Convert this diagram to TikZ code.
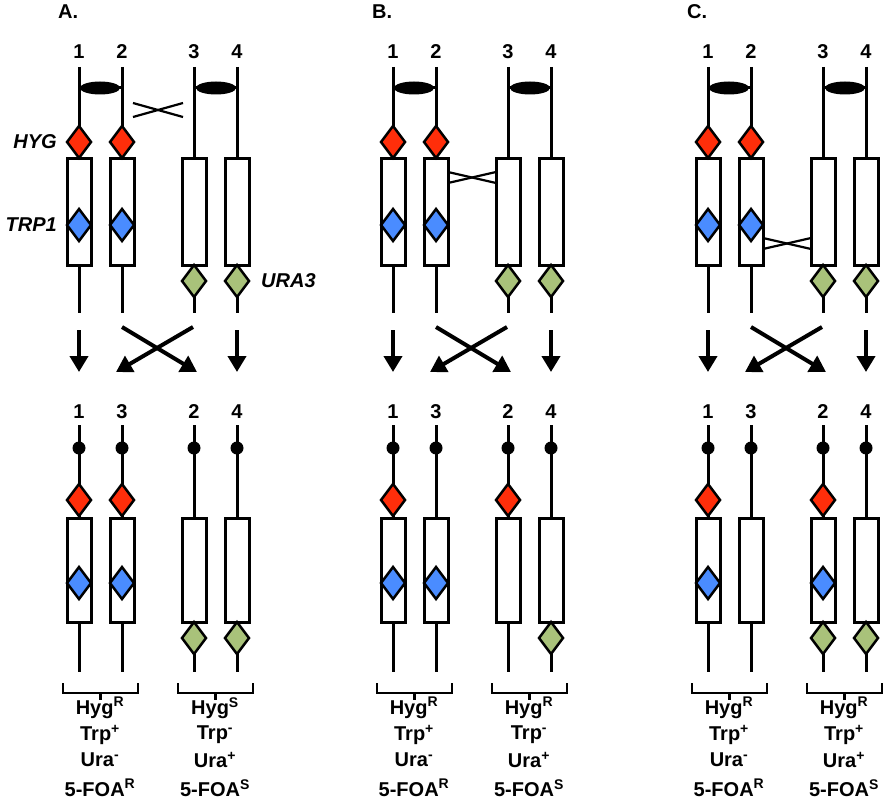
\documentclass[tikz,border=0pt]{standalone}
\usepackage{fontspec}
\setmainfont{Liberation Sans}
\usetikzlibrary{arrows.meta}
\definecolor{hred}{HTML}{FF2E0A}
\definecolor{tblue}{HTML}{4A8CFF}
\definecolor{ugreen}{HTML}{A9C27A}
\tikzset{
 ln/.style={line width=3pt},
 dia/.style={draw,line width=2.5pt,fill=#1},
 rect/.style={draw,line width=3pt,fill=white},
 txt/.style={font=\bfseries\fontsize{20}{22}\selectfont,inner sep=0pt},
 itx/.style={font=\bfseries\itshape\fontsize{20}{22}\selectfont,inner sep=0pt},
 arr/.style={line width=4pt,-{Triangle[length=16pt,width=18pt]}},
 xo/.style={line width=2.2pt},
}
\newcommand\dmd[3]{\draw[dia=#3] (#1-12,#2) -- (#1,#2-16) -- (#1+12,#2) -- (#1,#2+16) -- cycle;}
\newcommand\topchr[4]{\draw[ln] (#1,67) -- (#1,313);
 \draw[rect] (#1-12,158) rectangle (#1+12,265);
 \ifnum#2=1 \dmd{#1}{142}{hred}\fi
 \ifnum#3=1 \dmd{#1}{225}{tblue}\fi
 \ifnum#4=1 \dmd{#1}{281}{ugreen}\fi}
\newcommand\botchr[4]{\draw[ln] (#1,425) -- (#1,672);
 \fill (#1,448) circle (6.5);
 \draw[rect] (#1-12,518) rectangle (#1+12,622);
 \ifnum#2=1 \dmd{#1}{500}{hred}\fi
 \ifnum#3=1 \dmd{#1}{583}{tblue}\fi
 \ifnum#4=1 \dmd{#1}{638}{ugreen}\fi}
\newcommand\brk[2]{\draw[line width=2.5pt] (#1,683) -- (#1,693) -- (#2,693) -- (#2,683);
 \draw[line width=2.5pt] ({(#1+#2)/2},693) -- ({(#1+#2)/2},700);}
\newcommand\lab[5]{\node[txt] at (#1,708) {#2};\node[txt] at (#1,735) {#3};
 \node[txt] at (#1,760) {#4};\node[txt] at (#1,788) {#5};}
\newcommand\supx[1]{\textsuperscript{\fontsize{14}{14}\selectfont #1}}
\newcommand\common{%
 \node[txt] (n1) at (79,52) {1}; \node[txt] (n2) at (122,52) {2};
 \node[txt] (n3) at (194,52) {3}; \node[txt] (n4) at (237,52) {4};
 \fill (100,88) ellipse (20 and 6.5); \fill (216,88) ellipse (20 and 6.5);
 \draw[ln] (79,88) -- (122,88); \draw[ln] (194,88) -- (237,88);
 \coordinate (a1) at (79,330); \coordinate (b1) at (79,372);
 \coordinate (a2) at (122,327); \coordinate (b2) at (197,372);
 \coordinate (a3) at (193,327); \coordinate (b3) at (116,372);
 \coordinate (a4) at (237,330); \coordinate (b4) at (237,372);
 \draw[arr] (a1) -- (b1); \draw[arr] (a4) -- (b4);
 \draw[arr] (a2) -- (b2); \draw[arr] (a3) -- (b3);
 \brk{63}{138}\brk{178}{253}}
\begin{document}
\begin{tikzpicture}[x=1pt,y=-1pt]
\useasboundingbox (0,0) rectangle (895,800);
\begin{scope}
\node[txt,anchor=west] (la) at (58,12) {A.};
\common
\topchr{79}{1}{1}{0}\topchr{122}{1}{1}{0}\topchr{194}{0}{0}{1}\topchr{237}{0}{0}{1}
\draw[xo] (133,103) -- (183,117); \draw[xo] (133,117) -- (183,103);
\node[itx,anchor=east] (hyg) at (57,142) {HYG};
\node[itx,anchor=east] (trp) at (57,225) {TRP1};
\node[itx,anchor=west] (ura) at (261,281) {URA3};
\node[txt] at (79,412) {1}; \node[txt] at (122,412) {3};
\node[txt] at (194,412) {2}; \node[txt] at (237,412) {4};
\botchr{79}{1}{1}{0}\botchr{122}{1}{1}{0}\botchr{194}{0}{0}{1}\botchr{237}{0}{0}{1}
\lab{100}{Hyg\supx{R}}{Trp\supx{+}}{Ura\supx{-}}{5-FOA\supx{R}}
\lab{215}{Hyg\supx{S}}{Trp\supx{-}}{Ura\supx{+}}{5-FOA\supx{S}}
\end{scope}
\begin{scope}[xshift=314pt]
\node[txt,anchor=west] (lb) at (58,12) {B.};
\common
\topchr{79}{1}{1}{0}\topchr{122}{1}{1}{0}\topchr{194}{0}{0}{1}\topchr{237}{0}{0}{1}
\draw[xo] (134,172) -- (182,183); \draw[xo] (134,183) -- (182,172);
\node[txt] at (79,412) {1}; \node[txt] at (122,412) {3};
\node[txt] at (194,412) {2}; \node[txt] at (237,412) {4};
\botchr{79}{1}{1}{0}\botchr{122}{0}{1}{0}\botchr{194}{1}{0}{0}\botchr{237}{0}{0}{1}
\lab{100}{Hyg\supx{R}}{Trp\supx{+}}{Ura\supx{-}}{5-FOA\supx{R}}
\lab{215}{Hyg\supx{R}}{Trp\supx{-}}{Ura\supx{+}}{5-FOA\supx{S}}
\end{scope}
\begin{scope}[xshift=629pt]
\node[txt,anchor=west] (lc) at (58,12) {C.};
\common
\topchr{79}{1}{1}{0}\topchr{122}{1}{1}{0}\topchr{194}{0}{0}{1}\topchr{237}{0}{0}{1}
\draw[xo] (134,238) -- (182,249); \draw[xo] (134,249) -- (182,238);
\node[txt] at (79,412) {1}; \node[txt] at (122,412) {3};
\node[txt] at (194,412) {2}; \node[txt] at (237,412) {4};
\botchr{79}{1}{1}{0}\botchr{122}{0}{0}{0}\botchr{194}{1}{1}{1}\botchr{237}{0}{0}{1}
\lab{100}{Hyg\supx{R}}{Trp\supx{+}}{Ura\supx{-}}{5-FOA\supx{R}}
\lab{215}{Hyg\supx{R}}{Trp\supx{+}}{Ura\supx{+}}{5-FOA\supx{S}}
\end{scope}
\end{tikzpicture}
\end{document}
